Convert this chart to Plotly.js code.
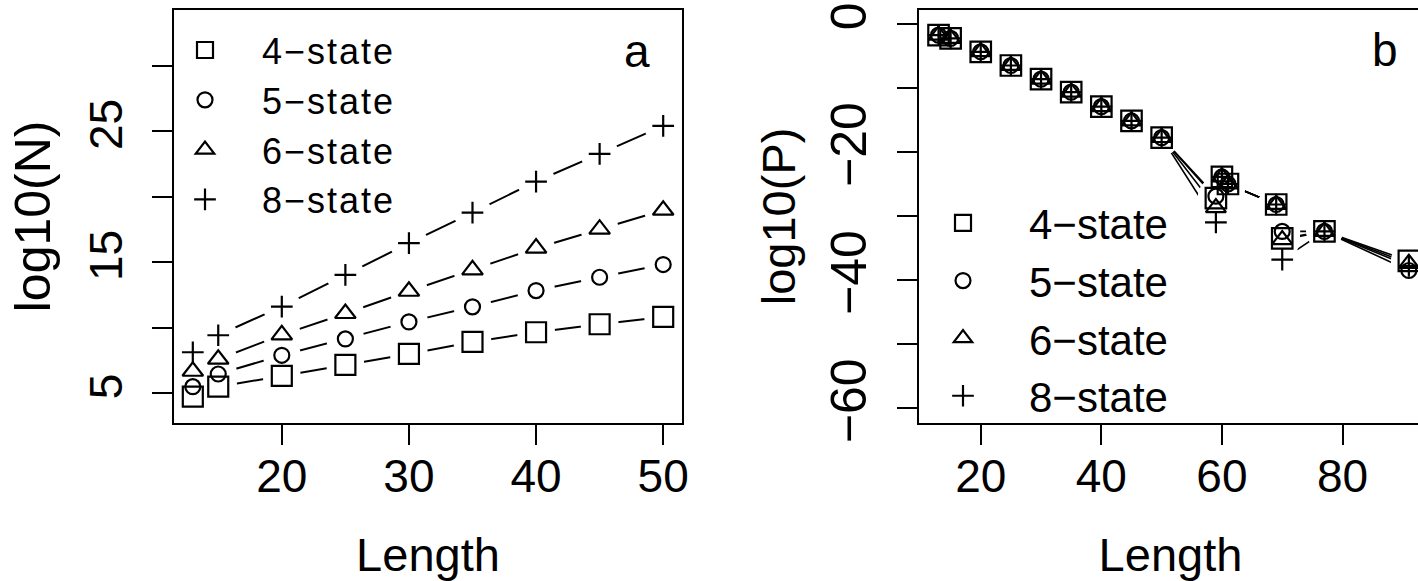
<!DOCTYPE html>
<html>
<head>
<meta charset="utf-8">
<script src="https://cdn.plot.ly/plotly-3.0.1.min.js"></script>
<style>
  html, body { margin: 0; padding: 0; overflow: hidden; background: #fff; }
  #chart { width: 1422px; height: 581px; }
  .legendtext { letter-spacing: 2px; }
</style>
</head>
<body>
<div id="chart"></div>
<script>
// Panel a: number of sequences (log10 N) against length
const lengthA = [13, 15, 20, 25, 30, 35, 40, 45, 50];
const logN4 = [4.74, 5.50, 6.32, 7.16, 8.00, 8.92, 9.66, 10.27, 10.83];
const logN5 = [5.50, 6.47, 7.90, 9.15, 10.45, 11.60, 12.84, 13.86, 14.83];
const logN6 = [6.68, 7.60, 9.46, 11.09, 12.79, 14.42, 16.08, 17.53, 18.98];
const logN8 = [8.13, 9.43, 11.62, 14.04, 16.46, 18.80, 21.17, 23.28, 25.42];

// Panel b: probability (log10 P) against length
const lengthB = [13, 15, 20, 25, 30, 35, 40, 45, 50, 59, 60, 61, 69, 70, 77, 91];
const logP4 = [-1.77, -2.28, -4.36, -6.50, -8.64, -10.67, -12.93, -15.16, -17.76, -27.2, -23.9, -25.0, -28.2, -33.5, -32.4, -37.0];
const logP5 = [-1.77, -2.28, -4.36, -6.50, -8.64, -10.67, -12.93, -15.16, -17.76, -26.9, -23.9, -25.0, -28.2, -32.4, -32.4, -38.5];
const logP6 = [-1.77, -2.28, -4.36, -6.50, -8.64, -10.67, -12.93, -15.16, -17.76, -28.7, -23.9, -25.0, -28.2, -33.7, -32.4, -37.4];
const logP8 = [-1.77, -2.28, -4.36, -6.50, -8.64, -10.67, -12.93, -15.16, -17.76, -31.0, -23.9, -25.0, -28.2, -36.8, -32.4, -37.8];

const seriesNames = ['4\u2212state', '5\u2212state', '6\u2212state', '8\u2212state'];

// Axis ticks
const ticksLenA = [20, 30, 40, 50];
const ticksLenB = [20, 40, 60, 80];
const ticksNA = [5, 10, 15, 20, 25, 30];
const labelsNA = ['5', '', '15', '', '25', ''];
const ticksPB = [0, -10, -20, -30, -40, -50, -60];
const labelsPB = ['0', '', '\u221220', '', '\u221240', '', '\u221260'];

const symbols = ['square-open', 'circle-open', 'triangle-up-open', 'cross-thin-open'];
const FONT = 'Liberation Sans, Arial, Helvetica, sans-serif';

// Lines first, then white discs that open a gap round each point, then the symbols
function panelTraces(xs, ys, xa, ya, sizes, gap, lineW, legendId) {
  const lines = ys.map(y => ({
    x: xs, y: y, xaxis: xa, yaxis: ya, type: 'scatter', mode: 'lines',
    line: {color: '#000', width: lineW}, showlegend: false, hoverinfo: 'skip'
  }));
  const gaps = ys.map(y => ({
    x: xs, y: y, xaxis: xa, yaxis: ya, type: 'scatter', mode: 'markers',
    marker: {symbol: 'circle', size: gap, color: '#fff', line: {width: 0}},
    showlegend: false, hoverinfo: 'skip'
  }));
  const marks = ys.map((y, i) => ({
    x: xs, y: y, xaxis: xa, yaxis: ya, type: 'scatter', mode: 'markers',
    name: seriesNames[i], legend: legendId,
    marker: {symbol: symbols[i], size: sizes[i], color: '#000', line: {color: '#000', width: 2.2}}
  }));
  return lines.concat(gaps, marks);
}

const data = [].concat(
  panelTraces(lengthA, [logN4, logN5, logN6, logN8], 'x', 'y', [20, 15, 18, 15.5], 38, 2, 'legend'),
  panelTraces(lengthB, [logP4, logP5, logP6, logP8], 'x2', 'y2', [20.5, 15, 17.5, 15.5], 36, 1.6, 'legend2')
);

const baseAxis = {
  showline: true, mirror: true, linecolor: '#000', linewidth: 2,
  ticks: 'outside', ticklen: 20, tickwidth: 2, tickcolor: '#000',
  showgrid: false, zeroline: false, fixedrange: true, tickmode: 'array',
  automargin: false
};

const yDomain = [0.272, 0.983];

const layout = {
  width: 1422, height: 581,
  margin: {l: 0, r: 0, t: 0, b: 0},
  paper_bgcolor: '#fff', plot_bgcolor: '#fff',
  font: {family: FONT, color: '#000'},
  showlegend: true,
  xaxis: Object.assign({}, baseAxis, {
    domain: [174 / 1422, 682 / 1422], range: [11.52, 51.48], anchor: 'y',
    tickvals: ticksLenA, tickfont: {size: 46}, ticklabelstandoff: -8,
    title: {text: 'Length', font: {size: 47}, standoff: 47}
  }),
  yaxis: Object.assign({}, baseAxis, {
    domain: yDomain, range: [2.73, 34.28], anchor: 'x',
    tickvals: ticksNA, ticktext: labelsNA, tickangle: -90, tickfont: {size: 46},
    ticklabelstandoff: 12,
    title: {text: 'log10(N)', font: {size: 50}, standoff: 13}
  }),
  xaxis2: Object.assign({}, baseAxis, {
    domain: [919 / 1422, 1], range: [9.76, 93.18], anchor: 'y2',
    tickvals: ticksLenB, tickfont: {size: 46}, ticklabelstandoff: -8,
    title: {text: 'Length', font: {size: 47}, standoff: 47}
  }),
  yaxis2: Object.assign({}, baseAxis, {
    domain: yDomain, range: [-62.3, 2.18], anchor: 'x2',
    tickvals: ticksPB, ticktext: labelsPB, tickangle: -90, tickfont: {size: 50},
    ticklabelstandoff: 11,
    title: {text: 'log10(P)', font: {size: 47}, standoff: 11}
  }),
  legend: {
    x: 148 / 1422, y: 0.9654, xanchor: 'left', yanchor: 'top',
    bgcolor: 'rgba(0,0,0,0)', borderwidth: 0, itemwidth: 104,
    font: {family: FONT, size: 36, color: '#000'}
  },
  legend2: {
    x: 897 / 1422, y: 0.6744, xanchor: 'left', yanchor: 'top',
    bgcolor: 'rgba(0,0,0,0)', borderwidth: 0, itemwidth: 122,
    font: {family: FONT, size: 42, color: '#000'}
  },
  annotations: [
    {text: 'a', xref: 'x domain', yref: 'y domain', x: 0.9124, y: 0.9007,
     xanchor: 'center', yanchor: 'middle', showarrow: false, font: {size: 46}},
    {text: 'b', xref: 'x2 domain', yref: 'y2 domain', x: 0.9264, y: 0.903,
     xanchor: 'center', yanchor: 'middle', showarrow: false, font: {size: 46}}
  ]
};

Plotly.newPlot('chart', data, layout, {displayModeBar: false, staticPlot: true});
</script>
</body>
</html>
